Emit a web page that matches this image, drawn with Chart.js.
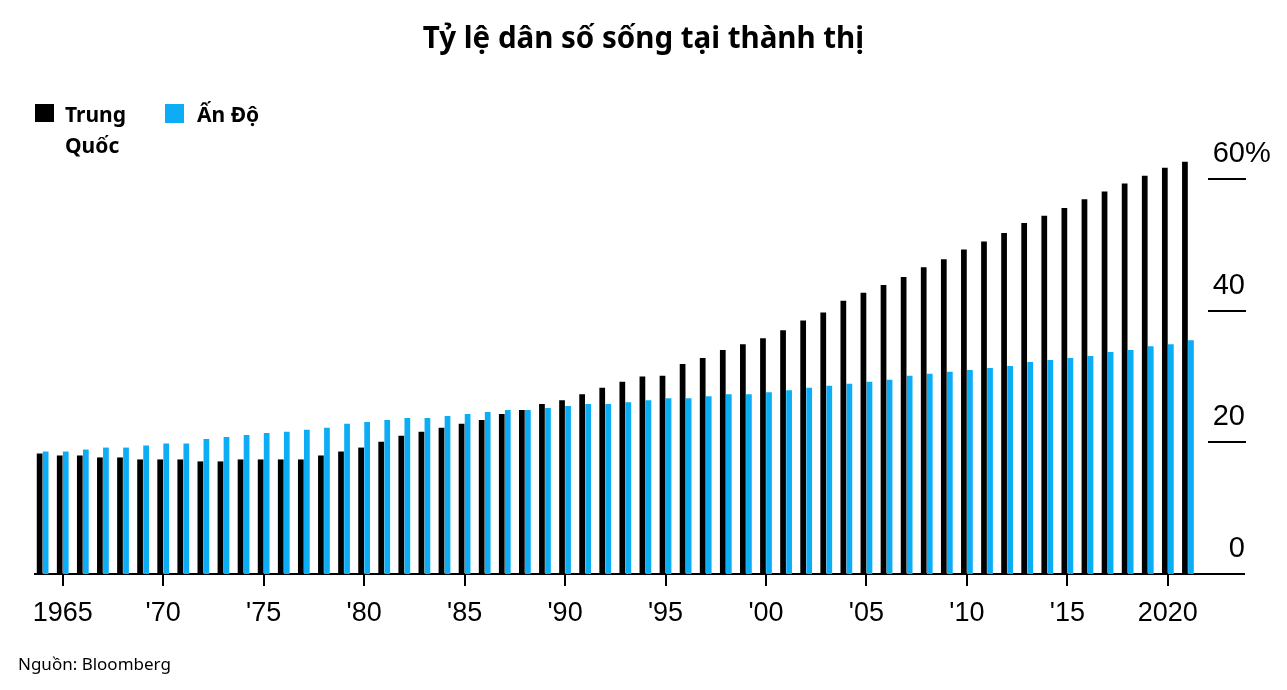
<!DOCTYPE html>
<html>
<head>
<meta charset="utf-8">
<script src="https://cdn.jsdelivr.net/npm/chart.js@4"></script>
<style>
  html, body { margin: 0; padding: 0; background: #fff; }
  #wrap { position: relative; width: 1287px; height: 690px; overflow: hidden; }
  #c { position: absolute; left: 0; top: 0; }
  .t { position: absolute; color: #000; font-family: "Noto Sans", sans-serif; white-space: nowrap; }
  #title { left: 0; width: 1287px; top: 17px; text-align: center; font-weight: 700; font-size: 29.5px; line-height: 40px; }
  .sw { position: absolute; width: 19px; height: 18px; }
  .lg { font-weight: 700; font-size: 21px; line-height: 31px; }
  #src { left: 18px; top: 652px; font-size: 17px; line-height: 24px; }
</style>
</head>
<body>
<div id="wrap">
  <canvas id="c" width="1287" height="690"></canvas>
  <div id="title" class="t">Tỷ lệ dân số sống tại thành thị</div>
  <div class="sw" style="left:35px; top:104px; background:#000;"></div>
  <div class="t lg" style="left:65px; top:99px;">Trung<br>Quốc</div>
  <div class="sw" style="left:165px; top:104px; height:19px; background:#0DADF5;"></div>
  <div class="t lg" style="left:197px; top:99px;">Ấn Độ</div>
  <div id="src" class="t">Nguồn: Bloomberg</div>
</div>
<script>
const years = [1964,1965,1966,1967,1968,1969,1970,1971,1972,1973,1974,1975,1976,1977,1978,1979,
  1980,1981,1982,1983,1984,1985,1986,1987,1988,1989,1990,1991,1992,1993,1994,1995,1996,1997,1998,1999,
  2000,2001,2002,2003,2004,2005,2006,2007,2008,2009,2010,2011,2012,2013,2014,2015,2016,2017,2018,2019,2020,2021];

const china = [18.3,18.0,18.0,17.7,17.7,17.4,17.4,17.4,17.1,17.1,17.4,17.4,17.4,17.4,18.0,18.6,
  19.2,20.1,21.0,21.6,22.2,22.8,23.4,24.3,24.9,25.8,26.4,27.3,28.3,29.2,30.0,30.1,31.9,32.8,34.0,34.9,
  35.8,37.0,38.5,39.7,41.5,42.7,43.9,45.1,46.6,47.8,49.3,50.5,51.8,53.3,54.4,55.6,56.9,58.1,59.3,60.5,61.7,62.6];

const india = [18.6,18.6,18.9,19.2,19.2,19.5,19.8,19.8,20.5,20.8,21.1,21.4,21.6,21.9,22.2,22.8,
  23.1,23.4,23.7,23.7,24.0,24.3,24.6,24.9,24.9,25.2,25.5,25.8,25.8,26.1,26.4,26.7,26.7,27.0,27.3,27.3,
  27.6,27.9,28.3,28.6,28.9,29.2,29.5,30.1,30.4,30.7,31.0,31.3,31.6,32.2,32.5,32.8,33.1,33.7,34.0,34.6,34.9,35.5];

const xTickValues = [1965,1970,1975,1980,1985,1990,1995,2000,2005,2010,2015,2020];
const xTickLabels = ["1965","'70","'75","'80","'85","'90","'95","'00","'05","'10","'15","2020"];
const yTickValues = [0,20,40,60];
const yTickLabels = ["0","20","40","60"];

const seriesNames = ["Trung Quốc","Ấn Độ"];
const seriesColors = ["#000000","#0DADF5"];

const yAxisPlugin = {
  id: 'yAxisRight',
  afterDraw(chart) {
    const ys = chart.scales.y;
    const right = chart.chartArea.right;
    const ctx = chart.ctx;
    ctx.save();
    ctx.strokeStyle = '#000';
    ctx.lineWidth = 2;
    ctx.fillStyle = '#000';
    ctx.font = '29px "Liberation Sans", Arial, sans-serif';
    ctx.textBaseline = 'alphabetic';
    yTickValues.forEach((v, i) => {
      const py = Math.round(ys.getPixelForValue(v));
      if (v !== 0) {
        ctx.beginPath();
        ctx.moveTo(right - 36, py);
        ctx.lineTo(right + 2, py);
        ctx.stroke();
      }
      ctx.textAlign = 'right';
      ctx.fillText(yTickLabels[i], right + 1, py - 17);
      if (i === yTickValues.length - 1) {
        ctx.textAlign = 'left';
        ctx.fillText('%', right + 1, py - 17);
      }
    });
    ctx.restore();
  }
};

new Chart(document.getElementById('c'), {
  type: 'bar',
  data: {
    datasets: [
      { label: seriesNames[0], data: years.map((y, i) => ({ x: y, y: china[i] })), backgroundColor: seriesColors[0], borderWidth: 0 },
      { label: seriesNames[1], data: years.map((y, i) => ({ x: y, y: india[i] })), backgroundColor: seriesColors[1], borderWidth: 0 }
    ]
  },
  options: {
    responsive: false,
    animation: false,
    layout: { padding: { left: 35, right: 43, top: 146, bottom: 0 } },
    plugins: { legend: { display: false }, tooltip: { enabled: false }, title: { display: false } },
    datasets: { bar: { categoryPercentage: 0.6, barPercentage: 0.95 } },
    scales: {
      x: {
        type: 'linear',
        min: 1963.62,
        max: 2023.79,
        offset: false,
        grid: { offset: false, drawOnChartArea: false, drawTicks: true, tickLength: 12, lineWidth: 2, color: '#000' },
        border: { display: true, color: '#000', width: 2 },
        ticks: {
          color: '#000',
          font: { family: '"Liberation Sans", Arial, sans-serif', size: 27 },
          padding: 11,
          autoSkip: false,
          maxRotation: 0,
          callback: (v) => { const k = xTickValues.indexOf(v); return k >= 0 ? xTickLabels[k] : ''; }
        },
        afterBuildTicks: (s) => { s.ticks = xTickValues.map(v => ({ value: v })); },
        afterFit: (s) => { s.height = 116; }
      },
      y: { display: false, min: 0, max: 65 }
    }
  },
  plugins: [yAxisPlugin]
});
</script>
</body>
</html>
